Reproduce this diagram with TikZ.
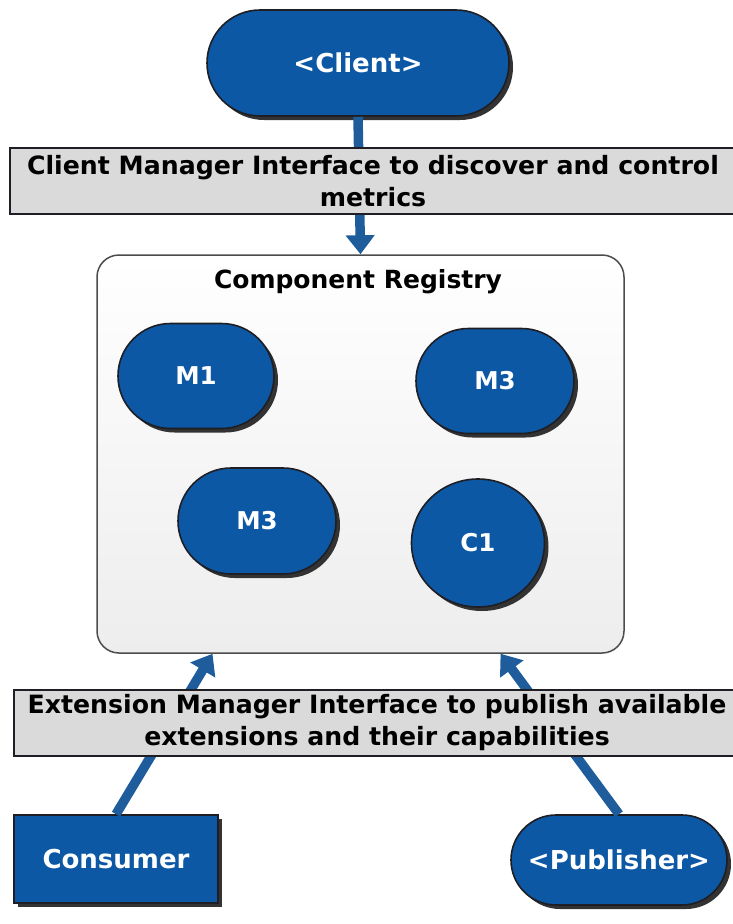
\documentclass[tikz,border=0pt]{standalone}
\usepackage{fontspec}
\setmainfont{DejaVu Sans}
\usetikzlibrary{shapes.misc,shapes.geometric,shadows,arrows.meta,calc}
\definecolor{nodeblue}{RGB}{12,88,164}
\definecolor{edgeblue}{RGB}{30,92,156}
\definecolor{bandgray}{RGB}{218,218,218}
\definecolor{outline}{RGB}{30,30,36}
\begin{document}
\begin{tikzpicture}[x=1pt,y=-1pt,
  blueshape/.style={fill=nodeblue, draw=outline, line width=1.6pt, text=white,
    font=\bfseries\fontsize{24.5}{28}\selectfont,
    drop shadow={shadow xshift=4pt, shadow yshift=-4pt, fill=black!80, opacity=1}},
  stadium/.style={blueshape, rounded rectangle, inner sep=0pt},
  band/.style={rectangle, fill=bandgray, draw=outline, line width=1.2pt,
    align=center, font=\bfseries\fontsize{25.2}{32}\selectfont, inner sep=0pt},
  link/.style={draw=edgeblue, line width=9.5pt,
    -{Triangle[width=28pt,length=19pt]}}
]
\useasboundingbox (0,0) rectangle (732,924);

% client at the top
\node[stadium, minimum width=302pt, minimum height=106pt,
      font=\bfseries\fontsize{26}{30}\selectfont] (client) at (358,63) {<Client>};

% the registry with its components
\node[rectangle, rounded corners=22pt, minimum width=527pt, minimum height=398pt,
      top color=white, bottom color=gray!14, draw=black!70, line width=1.5pt]
      (reg) at (360.5,454) {};
\node[font=\bfseries\fontsize{25}{29}\selectfont] (regtitle) at (358,282) {Component Registry};

\node[stadium, minimum width=156pt, minimum height=105pt] (m1) at (196,376) {M1};
\node[stadium, minimum width=158pt, minimum height=105pt] (m3a) at (495,381) {M3};
\node[stadium, minimum width=158pt, minimum height=106pt] (m3b) at (257,521) {M3};
\node[blueshape, ellipse, minimum width=133pt, minimum height=128pt, inner sep=0pt] (c1) at (478,543) {C1};

% extension providers at the bottom
\node[blueshape, rectangle, minimum width=204pt, minimum height=88pt,
      font=\bfseries\fontsize{26}{30}\selectfont] (cons) at (116,859) {Consumer};
\node[stadium, minimum width=216pt, minimum height=90pt,
      font=\bfseries\fontsize{26}{30}\selectfont] (pub) at (619,860) {<Publisher>};

% connectors
\coordinate (regin1) at ($(reg.south west)!0.22!(reg.south east)$);
\coordinate (regin2) at ($(reg.south west)!0.765!(reg.south east)$);
\draw[link] (client.south) -- (reg.north);
\draw[link] (cons.north) -- (regin1);
\draw[link] (pub.north) -- (regin2);

% interface bands laid over the connectors
\node[band, minimum width=726pt, minimum height=66pt] (cmi) at (373,181)
  {Client Manager Interface to discover and control\\metrics};
\node[band, minimum width=726pt, minimum height=66pt] (emi) at (377,723)
  {Extension Manager Interface to publish available\\extensions and their capabilities};
\end{tikzpicture}
\end{document}
